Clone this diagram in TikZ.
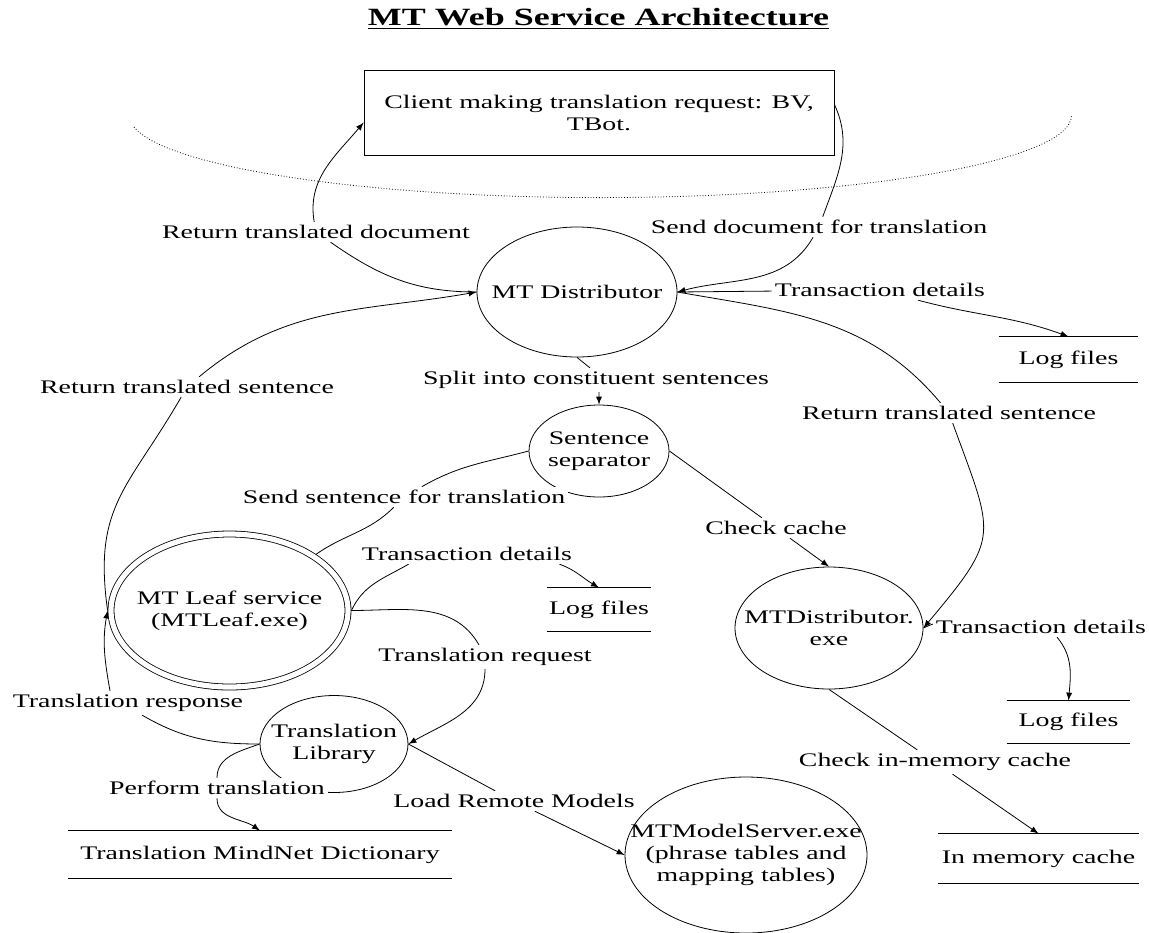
\documentclass[tikz,border=0pt]{standalone}
\usepackage{fontspec}
\setmainfont{Liberation Serif}[FakeStretch=1.45]
\usetikzlibrary{shapes.geometric,backgrounds}
\tikzstyle{proc} = [draw, shape=ellipse, inner sep=-16pt, align=center]
\tikzstyle{store} = [shape=rectangle, inner sep=1pt, align=center]
\tikzstyle{lbl} = [fill=white, inner sep=1.5pt]
\tikzstyle{client} = [draw, shape=rectangle, minimum width=235pt, minimum height=42.5pt, align=center]

\begin{document}
\begin{tikzpicture}[x=0.5pt, y=0.5pt, >=latex, font=\fontsize{9.6}{11}\selectfont]
    \useasboundingbox (0,0) rectangle (1149,-932);
    \draw (598.5,-25) node[anchor=base, font=\fontsize{12.4}{14}\selectfont\bfseries] (title) {\underline{MT Web Service Architecture}};
    \draw (599,-112.5) node[client] (client) {Client making translation request: BV,\\TBot.};
    \draw[densely dotted] (134,-127) arc[start angle=188, end angle=360, x radius=235.5pt, y radius=41pt];
    % processes
    \draw (577,-292) node[proc, minimum width=100pt, minimum height=65pt] (dist) {MT Distributor};
    \draw (599,-451) node[proc, minimum width=70pt, minimum height=46pt] (sep) {Sentence\\separator};
    \draw (829,-628) node[proc, minimum width=94pt, minimum height=61pt] (exe) {MTDistributor.\\exe};
    \draw (229.5,-610.5) node[proc, double, double distance=2.6pt, outer sep=1.7pt, minimum width=118.5pt, minimum height=76.5pt] (leaf) {MT Leaf service\\(MTLeaf.exe)};
    \draw (334,-744) node[proc, minimum width=74pt, minimum height=48.5pt] (lib) {Translation\\Library};
    \draw (746,-855) node[proc, minimum width=121pt, minimum height=78pt] (model) {MTModelServer.exe\\(phrase tables and\\mapping tables)};
    % data stores
    \draw (1068.5,-359.5) node[store, minimum width=69.5pt, minimum height=22.5pt] (log1) {Log files};
    \draw (599,-609.5) node[store, minimum width=52pt, minimum height=21.5pt] (log2) {Log files};
    \draw (1068.5,-722) node[store, minimum width=61.5pt, minimum height=21pt] (log3) {Log files};
    \draw (1038.5,-858.5) node[store, minimum width=100.5pt, minimum height=24.5pt] (cache) {In memory cache};
    \draw (260,-854.5) node[store, minimum width=192pt, minimum height=23.5pt] (dict) {Translation MindNet Dictionary};
    \foreach \s in {log1,log2,log3,cache,dict}
        \draw (\s.north west) -- (\s.north east) (\s.south west) -- (\s.south east);
    % flow labels
    \draw (316,-232) node[lbl] (lRetDoc) {Return translated document};
    \draw (819,-227) node[lbl] (lSendDoc) {Send document for translation};
    \draw (880,-290) node[lbl] (lTrans1) {Transaction details};
    \draw (596,-380) node[lbl] (lSplit) {Split into constituent sentences};
    \draw (187,-387) node[lbl] (lRetSent1) {Return translated sentence};
    \draw (949,-413) node[lbl] (lRetSent2) {Return translated sentence};
    \draw (404,-497) node[lbl] (lSendSent) {Send sentence for translation};
    \draw (776,-528) node[lbl] (lCheck) {Check cache};
    \draw (467,-554) node[lbl] (lTrans2) {Transaction details};
    \draw (1041,-627) node[lbl] (lTrans3) {Transaction details};
    \draw (485,-657) node[lbl] (lTransReq) {Translation request};
    \draw (128,-703) node[lbl] (lTransResp) {Translation response};
    \draw (935,-762) node[lbl] (lMem) {Check in-memory cache};
    \draw (217,-788) node[lbl] (lPerform) {Perform translation};
    \draw (514,-801) node[lbl] (lLoad) {Load Remote Models};
    % flows
    \begin{pgfonlayer}{background}
    \draw[->] (dist.west) to[out=180,in=-35] (lRetDoc) to[out=100,in=-130] ([yshift=-5pt]client.west);
    \draw[->] ([yshift=4pt]client.east) to[out=-65,in=70] (lSendDoc) to[out=-120,in=15] (dist.east);
    \draw[->] (dist.east) -- (lTrans1) to[out=-15,in=160] (log1.north);
    \draw[->] (dist.east) to[out=-10,in=130] (lRetSent2) to[out=-70,in=50,looseness=1.5] (exe.east);
    \draw[->] (dist.south) -- ([xshift=-3pt]lSplit.north) (lSplit.south -| sep.north) -- (sep.north);
    \draw (sep.west) to[out=195,in=30] (lSendSent) to[out=-135,in=35] (leaf.33);
    \draw[->] (sep.east) -- (lCheck) -- (exe.north);
    \draw[->] (exe.east) to[out=25,in=170] ([xshift=-14pt,yshift=-3pt]lTrans3.north) ([xshift=8pt]lTrans3.south) to[out=-50,in=85] (log3.north);
    \draw[->] (exe.south) -- (lMem) -- (cache.north);
    \draw[->] (leaf.west) to[out=98,in=-120,looseness=1.2] (lRetSent1) to[out=40,in=190] (dist.west);
    \draw[->] (leaf.east) to[out=65,in=-150] ([xshift=25pt]lTrans2.south west) ([xshift=-8pt]lTrans2.south east) to[out=-20,in=150] (log2.north);
    \draw[->] (leaf.east) to[out=0,in=120] ([xshift=-3pt]lTransReq.north) (lTransReq.south) to[out=-90,in=30] (lib.east);
    \draw[->] (lib.west) to[out=180,in=-30] ([xshift=7pt]lTransResp.south) ([xshift=-9pt]lTransResp.north) to[out=100,in=-100] (leaf.west);
    \draw[->] (lib.west) to[out=200,in=90] (lPerform.north) (lPerform.south) to[out=-90,in=145] (dict.north);
    \draw[->] (lib.east) -- (lLoad) -- (model.west);
    \end{pgfonlayer}
\end{tikzpicture}
\end{document}
